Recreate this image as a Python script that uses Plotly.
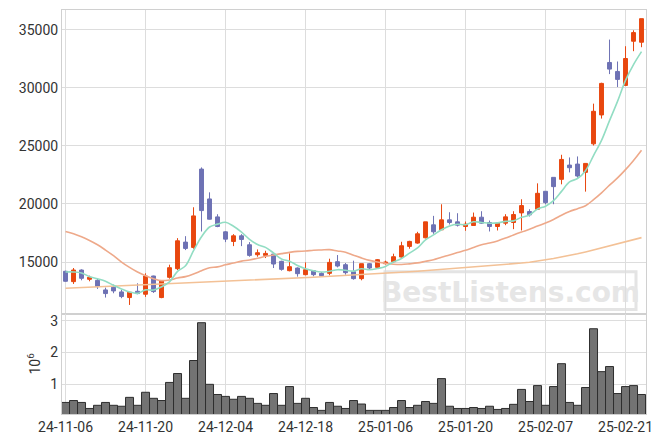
import plotly.graph_objects as go

dates = ["24-11-06","24-11-07","24-11-08","24-11-11","24-11-12","24-11-13","24-11-14","24-11-15","24-11-18","24-11-19",
         "24-11-20","24-11-21","24-11-22","24-11-25","24-11-26","24-11-27","24-11-28","24-11-29","24-12-02","24-12-03",
         "24-12-04","24-12-05","24-12-06","24-12-09","24-12-10","24-12-11","24-12-12","24-12-13","24-12-16","24-12-17",
         "24-12-18","24-12-19","24-12-20","24-12-23","24-12-24","24-12-26","24-12-27","24-12-30","25-01-02","25-01-03",
         "25-01-06","25-01-07","25-01-08","25-01-09","25-01-10","25-01-13","25-01-14","25-01-15","25-01-16","25-01-17",
         "25-01-20","25-01-21","25-01-22","25-01-23","25-01-24","25-01-31","25-02-03","25-02-04","25-02-05","25-02-06",
         "25-02-07","25-02-10","25-02-11","25-02-12","25-02-13","25-02-14","25-02-17","25-02-18","25-02-19","25-02-20",
         "25-02-21","25-02-24","25-02-25"]

opens = [14200,13309,14310,13509,13423,12594,12823,12422,11937,12480,
         12222,13795,11937,13681,14425,16714,16256,23009,20434,18888,
         17600,16771,17257,16485,15627,15570,15684,15057,14253,14482,
         13909,14253,14024,14024,15027,14768,14167,13566,14853,14539,
         14853,15028,15429,16345,16631,17089,18204,17775,18633,18461,
         18061,18147,18862,18404,18061,18347,18404,19234,19348,19548,
         21093,22296,22124,23354,23440,22725,25185,27674,32195,31423,
         30220,34026,33940]
highs = [14250,14482,14367,13824,13538,12794,13052,12594,12420,13166,
         14024,13820,13395,14768,17057,17228,19718,23152,21006,19117,
         17658,17400,17400,16714,16084,15970,15742,15113,15742,14539,
         14968,14310,14138,15284,15599,14911,15113,14853,14911,15256,
         15113,15716,16746,16831,17603,18461,18976,19977,19291,19205,
         18490,19262,19377,18576,18433,19119,19377,20406,19548,21779,
         21093,22296,24241,24012,24098,23497,28647,30449,34169,32281,
         33597,34970,35971]
lows = [13300,13109,13423,13338,12680,11937,12308,11880,11300,12222,
        11994,12337,11880,13566,14310,16027,16141,17630,18659,18001,
        16714,16370,16370,15456,15456,15341,14482,14253,14196,13738,
        13852,13767,13709,13852,14539,13909,13480,13423,14339,14482,
        14796,14915,15372,16145,16574,17032,17432,17775,18233,18061,
        17689,18118,18290,17632,17718,18175,17832,17718,18919,19491,
        19977,19979,21695,22725,22267,21065,25042,27360,31194,30077,
        30163,33168,33511]
closes = [13340,14310,13595,13681,12880,12280,12508,12022,12394,12280,
          13795,12451,13395,14510,16828,16170,18974,19432,18688,18058,
          16971,17257,16943,15570,15799,15742,14826,14367,14596,13995,
          14339,13909,13824,14968,14653,14081,13566,14853,14482,15199,
          15000,15456,16402,16774,17432,18461,17603,18633,18404,18175,
          18261,18862,18347,18061,18347,18891,19091,19863,19062,20921,
          20120,21495,23840,23125,22410,23497,27989,30392,31623,30736,
          32538,34770,35971]

volume_m = [0.43,0.49,0.43,0.24,0.34,0.43,0.34,0.31,0.59,0.34,
            0.75,0.56,0.49,1.06,1.34,0.56,1.75,2.94,1.00,0.68,
            0.62,0.53,0.62,0.56,0.40,0.34,0.71,0.34,0.93,0.40,
            0.56,0.27,0.18,0.43,0.31,0.24,0.49,0.38,0.18,0.18,
            0.18,0.27,0.49,0.27,0.34,0.46,0.40,1.18,0.31,0.24,
            0.24,0.27,0.24,0.31,0.21,0.24,0.37,0.84,0.46,0.96,
            0.34,0.93,1.65,0.43,0.34,0.90,2.75,1.40,1.56,0.71,
            0.93,0.96,0.68]

ma5 = [14141,14141,14056,13738,13561,13349,12989,12674,12417,12297,
       12600,12588,12863,13286,14196,14671,15975,17183,18018,18264,
       18425,18081,17583,16960,16508,16262,15776,15261,15066,14705,
       14425,14241,14133,14207,14339,14287,14218,14424,14327,14436,
       14620,14998,15308,15766,16213,16905,17334,17781,18107,18255,
       18215,18467,18410,18341,18376,18502,18547,18851,19051,19566,
       19811,20292,21088,21900,22198,22873,24172,25483,27182,28847,
       30656,32012,33128]

ma20 = [17629,17429,17171,16857,16485,16027,15541,14997,14539,14138,
        13824,13566,13395,13452,13624,13738,13967,14253,14510,14580,
        14761,14908,15076,15170,15316,15489,15605,15723,15833,15918,
        15946,16018,16040,16063,15954,15850,15579,15350,15140,14997,
        14898,14808,14781,14842,14923,15059,15198,15411,15602,15811,
        16007,16254,16481,16635,16820,17060,17337,17587,17816,18102,
        18358,18660,19032,19350,19599,19850,20370,20958,21619,22247,
        22961,23756,24637]

ma60 = [12740,12770,12800,12830,12855,12880,12905,12930,12960,12985,
        13010,13040,13070,13100,13130,13160,13190,13220,13250,13280,
        13310,13340,13375,13410,13445,13480,13515,13550,13585,13620,
        13655,13690,13725,13760,13800,13840,13880,13920,13960,14000,
        14040,14075,14110,14160,14210,14260,14310,14360,14410,14460,
        14510,14565,14620,14675,14730,14790,14850,14910,14980,15060,
        15200,15300,15420,15560,15710,15870,16040,16210,16390,16570,
        16760,16950,17100]

price_ticks = [15000, 20000, 25000, 30000, 35000]
vol_ticks = [1, 2, 3]
tick_idx = [0, 10, 20, 30, 40, 50, 60, 70]
watermark = "BestListens.com"

UP = "#E8470F"
DOWN = "#6E72B4"
GRID = "#dddddd"
FONT = "Roboto"

idx = list(range(len(dates)))

fig = go.Figure()
fig.add_trace(go.Scatter(x=idx, y=ma60, mode="lines", line=dict(color="#F3C196", width=1.6),
                         xaxis="x", yaxis="y", hoverinfo="skip"))
fig.add_trace(go.Scatter(x=idx, y=ma20, mode="lines", line=dict(color="#EEA98A", width=1.6, shape="spline"),
                         xaxis="x", yaxis="y", hoverinfo="skip"))
fig.add_trace(go.Scatter(x=idx, y=ma5, mode="lines", line=dict(color="#92DDC3", width=1.6, shape="spline"),
                         xaxis="x", yaxis="y", hoverinfo="skip"))
fig.add_trace(go.Candlestick(x=idx, open=opens, high=highs, low=lows, close=closes,
                             increasing=dict(line=dict(color=UP, width=1), fillcolor=UP),
                             decreasing=dict(line=dict(color=DOWN, width=1), fillcolor=DOWN),
                             whiskerwidth=0, xaxis="x", yaxis="y", hoverinfo="skip"))
fig.add_trace(go.Bar(x=idx, y=volume_m, width=1.0, marker=dict(color="#737373", line=dict(color="#2e2e2e", width=1)),
                     xaxis="x2", yaxis="y2", hoverinfo="skip"))

axis_common = dict(showgrid=True, gridcolor=GRID, gridwidth=1, zeroline=False,
                   showline=True, linecolor="#d0d0d0", linewidth=1, mirror=True,
                   tickfont=dict(family=FONT, size=14, color="#333333"), ticks="")

fig.update_layout(
    width=663, height=444,
    margin=dict(l=62, r=17, t=9, b=29),
    paper_bgcolor="white", plot_bgcolor="white",
    showlegend=False,
    xaxis=dict(domain=[0, 1], anchor="y", range=[-0.44, 72.56], tickmode="array", tickvals=tick_idx,
               ticktext=[dates[i] for i in tick_idx], showticklabels=False, rangeslider=dict(visible=False),
               **axis_common),
    xaxis2=dict(domain=[0, 1], anchor="y2", matches="x", range=[-0.44, 72.56], tickmode="array", tickvals=tick_idx,
                ticktext=[dates[i] for i in tick_idx], **axis_common),
    yaxis=dict(domain=[0.248, 1], anchor="x", range=[10536, 36718], tickmode="array", tickvals=price_ticks,
               ticktext=[str(v) for v in price_ticks], **axis_common),
    yaxis2=dict(domain=[0, 0.248], anchor="x2", range=[0.066, 3.22], tickmode="array", tickvals=vol_ticks,
                ticktext=[str(v) for v in vol_ticks],
                title=dict(text="10<sup>6</sup>", font=dict(family=FONT, size=14, color="#333333"), standoff=6),
                **axis_common),
    shapes=[dict(type="rect", xref="paper", yref="paper", x0=(385 - 62) / 584, x1=(636 - 62) / 584,
                 y0=(415 - 310) / 406, y1=(415 - 272) / 406, layer="below",
                 line=dict(color="#e4e4e4", width=3), fillcolor="rgba(0,0,0,0)",
                 label=dict(text="<b>" + watermark + "</b>", textposition="middle center",
                            font=dict(family="DejaVu Sans", size=28, color="#e6e6e6")))],
)

fig.write_html("out.html")
